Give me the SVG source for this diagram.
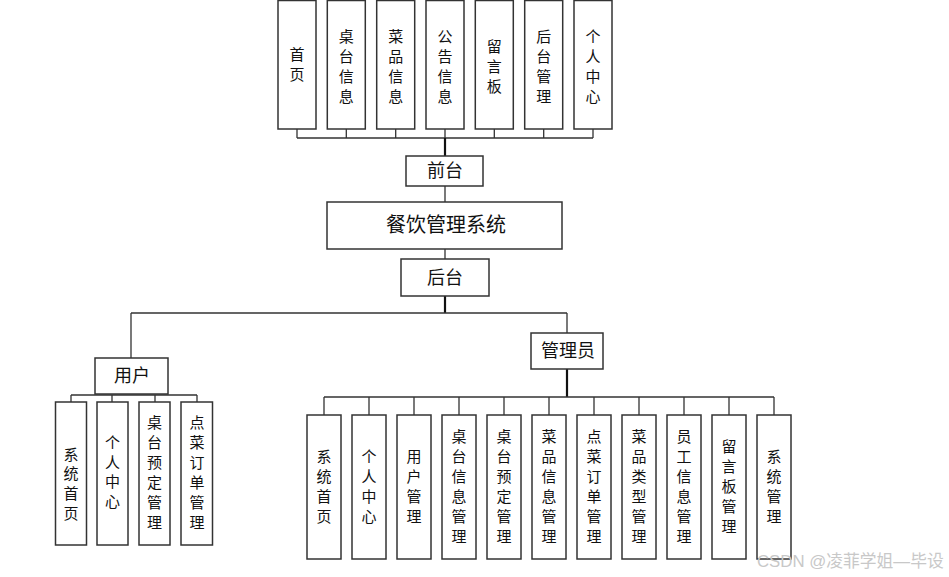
<svg xmlns="http://www.w3.org/2000/svg" width="949" height="577" viewBox="0 0 949 577">
<style>
.b{fill:#fff;stroke:#333;stroke-width:1.5}
.t{font-family:"Noto Sans CJK SC","Liberation Sans",sans-serif;font-size:15px;fill:#111;text-anchor:middle}
.m{font-family:"Noto Sans CJK SC","Liberation Sans",sans-serif;font-size:18px;fill:#111;text-anchor:middle}
.c{fill:none;stroke:#333;stroke-width:1.3}
.k{fill:none;stroke:#111;stroke-width:2.2}
.w{font-family:"Liberation Sans","Noto Sans CJK SC",sans-serif;font-size:16.8px;fill:#c8c8c8}
</style>
<g id="connectors">
<path class="c" d="M297,129V138M346.3,129V138M395.7,129V138M445,129V138M494.3,129V138M543.7,129V138M593,129V138M297,138H593"/>
<path class="k" d="M445,138V156"/>
<path class="c" d="M445,186V202M445,249V259"/>
<path class="k" d="M445,296V313"/>
<path class="c" d="M131,313H567M131,313V358M567,313V333"/>
<path class="c" d="M71,395H197M71,395V402M112,395V402M155,395V402M197,395V402"/>
<path class="k" d="M567,369V397"/>
<path class="c" d="M324,397H774M324,397V415M369,397V415M414,397V415M459,397V415M504,397V415M549,397V415M594,397V415M639,397V415M684,397V415M729,397V415M774,397V415"/>
</g>
<g id="top-home"><rect class="b" x="278" y="0.5" width="38" height="128.5"/><text class="t"><tspan x="297" y="60">首</tspan><tspan x="297" y="80">页</tspan></text></g>
<g id="top-table"><rect class="b" x="327.3" y="0.5" width="38" height="128.5"/><text class="t"><tspan x="346.3" y="42">桌</tspan><tspan x="346.3" y="62">台</tspan><tspan x="346.3" y="82">信</tspan><tspan x="346.3" y="102">息</tspan></text></g>
<g id="top-dish"><rect class="b" x="376.7" y="0.5" width="38" height="128.5"/><text class="t"><tspan x="395.7" y="42">菜</tspan><tspan x="395.7" y="62">品</tspan><tspan x="395.7" y="82">信</tspan><tspan x="395.7" y="102">息</tspan></text></g>
<g id="top-notice"><rect class="b" x="426" y="0.5" width="38" height="128.5"/><text class="t"><tspan x="445" y="42">公</tspan><tspan x="445" y="62">告</tspan><tspan x="445" y="82">信</tspan><tspan x="445" y="102">息</tspan></text></g>
<g id="top-msg"><rect class="b" x="475.3" y="0.5" width="38" height="128.5"/><text class="t"><tspan x="494.3" y="52">留</tspan><tspan x="494.3" y="72">言</tspan><tspan x="494.3" y="92">板</tspan></text></g>
<g id="top-admin"><rect class="b" x="524.7" y="0.5" width="38" height="128.5"/><text class="t"><tspan x="543.7" y="42">后</tspan><tspan x="543.7" y="62">台</tspan><tspan x="543.7" y="82">管</tspan><tspan x="543.7" y="102">理</tspan></text></g>
<g id="top-center"><rect class="b" x="574" y="0.5" width="38" height="128.5"/><text class="t"><tspan x="593" y="42">个</tspan><tspan x="593" y="62">人</tspan><tspan x="593" y="82">中</tspan><tspan x="593" y="102">心</tspan></text></g>
<g id="front"><rect class="b" x="406" y="156" width="77" height="30"/><text class="m" x="445" y="177">前台</text></g>
<g id="system"><rect class="b" x="327" y="202" width="235" height="47"/><text class="m" x="446" y="232" style="font-size:20px">餐饮管理系统</text></g>
<g id="back"><rect class="b" x="401" y="259" width="88" height="37"/><text class="m" x="445" y="284">后台</text></g>
<g id="user"><rect class="b" x="95" y="358" width="73" height="36"/><text class="m" x="132" y="382">用户</text></g>
<g id="admin"><rect class="b" x="531" y="333" width="72" height="36"/><text class="m" x="568" y="357">管理员</text></g>
<g id="u1"><rect class="b" x="55.5" y="402" width="31" height="143"/><text class="t"><tspan x="71" y="460">系</tspan><tspan x="71" y="479">统</tspan><tspan x="71" y="499">首</tspan><tspan x="71" y="519">页</tspan></text></g>
<g id="u2"><rect class="b" x="97" y="402" width="31" height="143"/><text class="t"><tspan x="112.5" y="448">个</tspan><tspan x="112.5" y="468">人</tspan><tspan x="112.5" y="487">中</tspan><tspan x="112.5" y="507">心</tspan></text></g>
<g id="u3"><rect class="b" x="139" y="402" width="31" height="143"/><text class="t"><tspan x="154.5" y="428">桌</tspan><tspan x="154.5" y="448">台</tspan><tspan x="154.5" y="468">预</tspan><tspan x="154.5" y="488">定</tspan><tspan x="154.5" y="508">管</tspan><tspan x="154.5" y="528">理</tspan></text></g>
<g id="u4"><rect class="b" x="181" y="402" width="31.5" height="143"/><text class="t"><tspan x="197" y="428">点</tspan><tspan x="197" y="448">菜</tspan><tspan x="197" y="468">订</tspan><tspan x="197" y="488">单</tspan><tspan x="197" y="508">管</tspan><tspan x="197" y="528">理</tspan></text></g>
<g id="a1"><rect class="b" x="307" y="415" width="34" height="144"/><text class="t"><tspan x="324" y="462">系</tspan><tspan x="324" y="482">统</tspan><tspan x="324" y="502">首</tspan><tspan x="324" y="522">页</tspan></text></g>
<g id="a2"><rect class="b" x="352" y="415" width="34" height="144"/><text class="t"><tspan x="369" y="462">个</tspan><tspan x="369" y="482">人</tspan><tspan x="369" y="502">中</tspan><tspan x="369" y="522">心</tspan></text></g>
<g id="a3"><rect class="b" x="397" y="415" width="34" height="144"/><text class="t"><tspan x="414" y="462">用</tspan><tspan x="414" y="482">户</tspan><tspan x="414" y="502">管</tspan><tspan x="414" y="522">理</tspan></text></g>
<g id="a4"><rect class="b" x="442" y="415" width="34" height="144"/><text class="t"><tspan x="459" y="442">桌</tspan><tspan x="459" y="462">台</tspan><tspan x="459" y="482">信</tspan><tspan x="459" y="502">息</tspan><tspan x="459" y="522">管</tspan><tspan x="459" y="542">理</tspan></text></g>
<g id="a5"><rect class="b" x="487" y="415" width="34" height="144"/><text class="t"><tspan x="504" y="442">桌</tspan><tspan x="504" y="462">台</tspan><tspan x="504" y="482">预</tspan><tspan x="504" y="502">定</tspan><tspan x="504" y="522">管</tspan><tspan x="504" y="542">理</tspan></text></g>
<g id="a6"><rect class="b" x="532" y="415" width="34" height="144"/><text class="t"><tspan x="549" y="442">菜</tspan><tspan x="549" y="462">品</tspan><tspan x="549" y="482">信</tspan><tspan x="549" y="502">息</tspan><tspan x="549" y="522">管</tspan><tspan x="549" y="542">理</tspan></text></g>
<g id="a7"><rect class="b" x="577" y="415" width="34" height="144"/><text class="t"><tspan x="594" y="442">点</tspan><tspan x="594" y="462">菜</tspan><tspan x="594" y="482">订</tspan><tspan x="594" y="502">单</tspan><tspan x="594" y="522">管</tspan><tspan x="594" y="542">理</tspan></text></g>
<g id="a8"><rect class="b" x="622" y="415" width="34" height="144"/><text class="t"><tspan x="639" y="442">菜</tspan><tspan x="639" y="462">品</tspan><tspan x="639" y="482">类</tspan><tspan x="639" y="502">型</tspan><tspan x="639" y="522">管</tspan><tspan x="639" y="542">理</tspan></text></g>
<g id="a9"><rect class="b" x="667" y="415" width="34" height="144"/><text class="t"><tspan x="684" y="442">员</tspan><tspan x="684" y="462">工</tspan><tspan x="684" y="482">信</tspan><tspan x="684" y="502">息</tspan><tspan x="684" y="522">管</tspan><tspan x="684" y="542">理</tspan></text></g>
<g id="a10"><rect class="b" x="712" y="415" width="34" height="144"/><text class="t"><tspan x="729" y="452">留</tspan><tspan x="729" y="472">言</tspan><tspan x="729" y="492">板</tspan><tspan x="729" y="512">管</tspan><tspan x="729" y="532">理</tspan></text></g>
<g id="a11"><rect class="b" x="757" y="415" width="34" height="144"/><text class="t"><tspan x="774" y="462">系</tspan><tspan x="774" y="482">统</tspan><tspan x="774" y="502">管</tspan><tspan x="774" y="522">理</tspan></text></g>
<text class="w" x="757" y="567">CSDN @凌菲学姐—毕设</text>
</svg>
